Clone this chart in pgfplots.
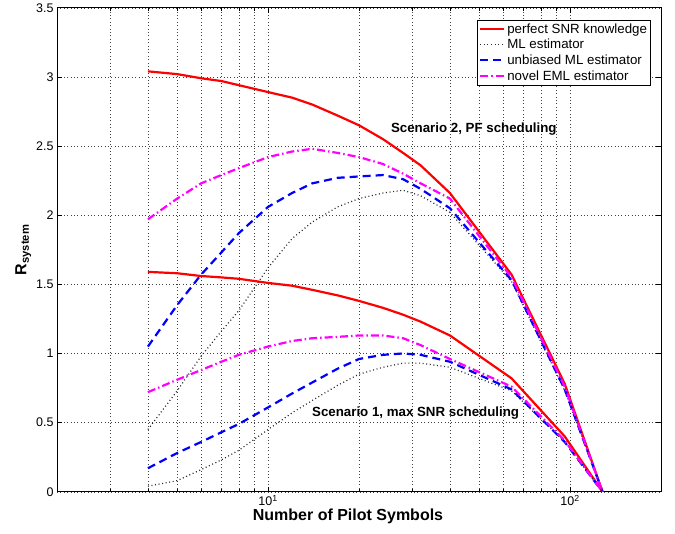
\documentclass[border=0pt]{standalone}
\usepackage{fontspec}
\setmainfont{Liberation Sans}
\usepackage{pgfplots}
\usepackage{pgfplotstable}
\pgfplotsset{compat=1.18}
\usetikzlibrary{calc}

\definecolor{mlred}{RGB}{255,0,0}
\definecolor{mlblue}{RGB}{0,0,255}
\definecolor{mlmag}{RGB}{255,0,255}
\definecolor{mlgray}{RGB}{40,40,40}

% N = pilot symbols; scenario 2 (PF) and scenario 1 (max SNR)
\pgfplotstableread{
N    r2    ml2   ub2   eml2  r1    ml1   ub1   eml1
4    3.04  0.45  1.05  1.97  1.59  0.04  0.17  0.72
5    3.02  0.73  1.35  2.12  1.58  0.08  0.28  0.81
6    2.99  0.98  1.57  2.23  1.56  0.16  0.36  0.88
7    2.97  1.16  1.73  2.29  1.55  0.23  0.43  0.94
8    2.94  1.31  1.87  2.34  1.54  0.30  0.49  0.99
10   2.89  1.62  2.06  2.42  1.51  0.45  0.61  1.05
12   2.85  1.83  2.16  2.46  1.49  0.57  0.71  1.09
14   2.80  1.95  2.23  2.48  1.46  0.66  0.79  1.11
17   2.72  2.06  2.27  2.45  1.42  0.77  0.89  1.12
20   2.65  2.12  2.28  2.42  1.38  0.85  0.96  1.13
24   2.55  2.16  2.29  2.37  1.33  0.90  0.99  1.13
28   2.45  2.18  2.26  2.30  1.28  0.93  1.00  1.11
32   2.36  2.14  2.19  2.23  1.23  0.93  0.99  1.06
40   2.16  2.02  2.05  2.12  1.13  0.90  0.94  0.96
64   1.57  1.52  1.53  1.55  0.82  0.73  0.74  0.76
96   0.78  0.73  0.74  0.76  0.40  0.36  0.36  0.37
128  0     0     0     0     0     0     0     0
}\datatable

\pgfplotsset{
  perfect/.style={mlred, line width=2.2bp},
  mlest/.style={mlgray, line width=1.2bp, dash pattern=on 1bp off 2.6bp},
  unbiased/.style={mlblue, line width=2.2bp, dash pattern=on 8bp off 5bp},
  eml/.style={mlmag, line width=2.2bp, dash pattern=on 8bp off 3bp on 1.5bp off 3bp},
}

\begin{document}
\begin{tikzpicture}
\begin{axis}[
  scale only axis,
  width=604bp, height=484bp,
  xmode=log, log basis x=10,
  xmin=2, xmax=200,
  ymin=0, ymax=3.5,
  xtick={10,100},
  xticklabels={10\textsuperscript{1},10\textsuperscript{2}},
  minor xtick={2,3,4,5,6,7,8,9,20,30,40,50,60,70,80,90,200},
  ytick={0,0.5,1,1.5,2,2.5,3,3.5},
  xmajorgrids, xminorgrids, ymajorgrids,
  grid style={black!75, line width=0.4bp, dash pattern=on 0.8bp off 2.6bp},
  minor grid style={black!75, line width=0.4bp, dash pattern=on 0.8bp off 2.6bp},
  axis line style={black, line width=0.9bp},
  tick style={black, line width=0.6bp},
  major tick length=5bp, minor tick length=3bp,
  tick align=inside,
  ticklabel style={font=\fontsize{12.5bp}{14bp}\selectfont},
  /pgf/number format/assume math mode=true,
  xlabel={\bfseries Number of Pilot Symbols},
  ylabel={\bfseries R\textsubscript{system}},
  label style={font=\fontsize{16bp}{18bp}\selectfont},
  xlabel style={yshift=4bp, xshift=-11bp},
  ylabel style={yshift=-2bp},
  legend cell align=left,
  legend style={at={(0.983,0.975)}, anchor=north east, draw=black,
    font=\fontsize{13.3bp}{15bp}\selectfont,
    inner sep=1.5bp, row sep=0.5bp},
  legend image code/.code={\draw[#1] plot coordinates {(0bp,0bp) (24bp,0bp)};},
]
\addplot[perfect] table[x=N, y=r2] {\datatable};
\addlegendentry{perfect SNR knowledge}
\addplot[mlest] table[x=N, y=ml2] {\datatable};
\addlegendentry{ML estimator}
\addplot[unbiased] table[x=N, y=ub2] {\datatable};
\addlegendentry{unbiased ML estimator}
\addplot[eml] table[x=N, y=eml2] {\datatable};
\addlegendentry{novel EML estimator}

\addplot[perfect, forget plot] table[x=N, y=r1] {\datatable};
\addplot[mlest, forget plot] table[x=N, y=ml1] {\datatable};
\addplot[unbiased, forget plot] table[x=N, y=ub1] {\datatable};
\addplot[eml, forget plot] table[x=N, y=eml1] {\datatable};

\node[font=\fontsize{13.3bp}{15bp}\selectfont\bfseries] at (axis cs:48,2.62) {Scenario 2, PF scheduling};
\node[font=\fontsize{13.3bp}{15bp}\selectfont\bfseries] at (axis cs:30.8,0.57) {Scenario 1, max SNR scheduling};
\end{axis}
\path[use as bounding box] ($(current axis.south west)+(-57bp,-41.3bp)$) rectangle ($(current axis.south west)+(618bp,491.7bp)$);
\end{tikzpicture}
\end{document}
